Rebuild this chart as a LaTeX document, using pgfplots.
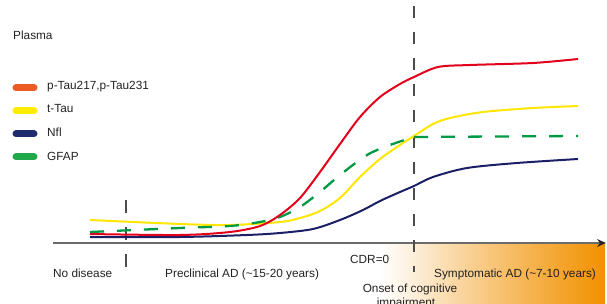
\documentclass[border=0pt]{standalone}
\usepackage{pgfplots}
\pgfplotsset{compat=1.18}
\usepackage{fontspec}
\setmainfont{Liberation Sans}
\usetikzlibrary{arrows.meta}
\definecolor{cred}{HTML}{E3001B}
\definecolor{cyel}{HTML}{FFE600}
\definecolor{cnavy}{HTML}{1B1F66}
\definecolor{cgreen}{HTML}{009A44}
\definecolor{sorange}{HTML}{EE5A24}
\definecolor{syel}{HTML}{FFEC00}
\definecolor{snavy}{HTML}{1E2C6E}
\definecolor{sgreen}{HTML}{21A84A}
\definecolor{bgor}{HTML}{F29100}
\definecolor{txt}{HTML}{222222}
\pgfdeclarehorizontalshading{orfade}{100bp}{color(0bp)=(white); color(25bp)=(white); color(32bp)=(bgor!14); color(40bp)=(bgor!32); color(52bp)=(bgor!57); color(65bp)=(bgor!82); color(75bp)=(bgor); color(100bp)=(bgor)}
\begin{document}
\begin{tikzpicture}[font=\fontsize{11.8}{14}\selectfont, every node/.style={text=txt, inner sep=0pt}]
\begin{axis}[scale only axis, width=607pt, height=304pt,
  xmin=0, xmax=607, ymin=0, ymax=304, y dir=reverse,
  hide axis, clip=false]
% background gradient
\fill[shading=orfade] (axis cs:380,244) rectangle (axis cs:605,304);
% time axis
\draw[color=black!58, line width=2pt, -{Stealth[length=9pt,width=8pt,color=black!85]}] (axis cs:53,243) -- (axis cs:606,243);
% vertical dashed markers
\addplot[black!70, line width=1.2pt, dash pattern=on 13pt off 14pt] coordinates {(126,200) (126,267)};
\addplot[black!70, line width=1.2pt, dash pattern=on 12pt off 14pt] coordinates {(414,6) (414,272)};
% curves
\addplot[cnavy, line width=2pt, smooth] coordinates {
(90,237) (180,237) (247,235) (280,233) (313,229) (340,220) (363,210) (380,201) (400,192) (414,186) (433,177) (467,168) (517,163) (578,159)};
\addplot[cyel, line width=2pt, smooth] coordinates {
(90,220) (180,224) (230,225) (280,222) (300,218) (320,211) (340,198) (360,177) (380,159) (400,145) (414,136) (433,124) (450,118) (483,112) (533,108) (578,106)};
\addplot[cgreen, line width=2.3pt, dash pattern=on 14pt off 13pt, smooth] coordinates {
(90,232) (180,228) (230,226) (260,222) (280,217) (300,207) (320,192) (340,175) (367,155) (390,145) (414,137)};
\addplot[cgreen, line width=2.3pt, dash pattern=on 14pt off 13pt] coordinates {(414,137) (578,136)};
\addplot[cred, line width=2pt, smooth] coordinates {
(90,234) (180,235) (230,232) (260,226) (280,215) (300,198) (320,172) (340,144) (360,117) (380,97) (400,84) (414,77) (438,67) (470,65) (533,63) (578,59)};
% legend
\node[anchor=west] at (axis cs:13,35) {Plasma};
\draw[sorange, line width=7pt, line cap=round] (axis cs:16,88) -- (axis cs:34,88);
\draw[syel, line width=7pt, line cap=round] (axis cs:16,111) -- (axis cs:34,111);
\draw[snavy, line width=7pt, line cap=round] (axis cs:16,134) -- (axis cs:34,134);
\draw[sgreen, line width=7pt, line cap=round] (axis cs:16,157) -- (axis cs:34,157);
\node[anchor=west] at (axis cs:47,87) {p-Tau217,p-Tau231};
\node[anchor=west] at (axis cs:47,109) {t-Tau};
\node[anchor=west] at (axis cs:47,132) {Nfl};
\node[anchor=west] at (axis cs:47,156) {GFAP};
% bottom labels
\node[anchor=base west] at (axis cs:53,277) {No disease};
\node[anchor=base west] at (axis cs:165,277) {Preclinical AD (\textasciitilde 15-20 years)};
\node[anchor=base west] at (axis cs:350,263) {CDR=0};
\node[anchor=base west] at (axis cs:434,277) {Symptomatic AD (\textasciitilde 7-10 years)};
\node[anchor=base] at (axis cs:410,292) {Onset of cognitive};
\node[anchor=base] at (axis cs:406,306) {impairment};
\end{axis}
\pgfresetboundingbox
\path[use as bounding box] (current axis.south west) rectangle (current axis.north east);
\end{tikzpicture}
\end{document}
